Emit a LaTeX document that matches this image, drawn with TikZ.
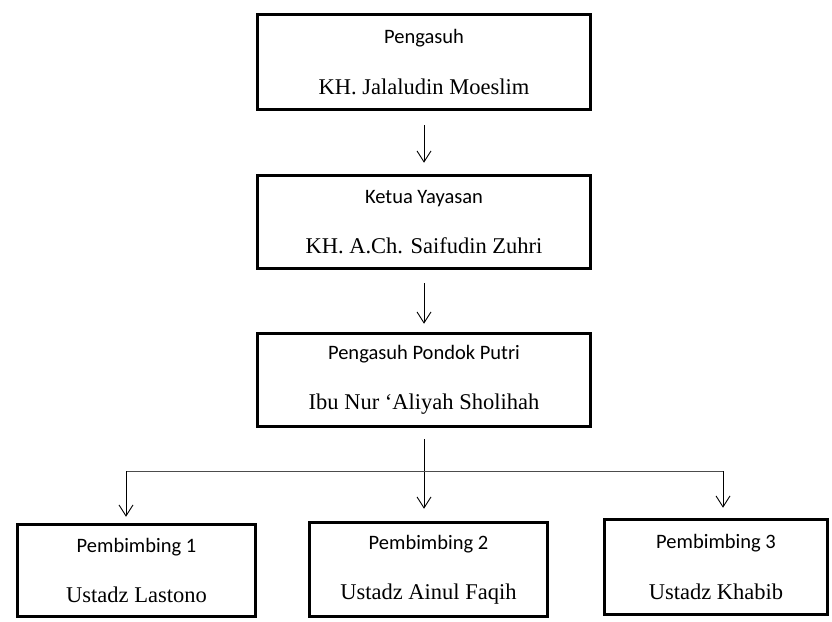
\documentclass[tikz,border=0pt]{standalone}
\usepackage{fontspec}
\usepackage{tikz}
\usetikzlibrary{arrows.meta}
\setmainfont{Liberation Serif}
\newfontfamily\labfont{Carlito}
\newcommand{\lab}{\fontsize{20.5}{24}\selectfont\labfont}
\newcommand{\nama}{\fontsize{22.5}{26}\selectfont\rmfamily}

\begin{document}
\begin{tikzpicture}[x=1pt,y=-1pt,
    kotak/.style={draw, line width=3.5pt, align=center, inner sep=0pt},
    panah/.style={line width=0.9pt, -{Straight Barb[length=11pt,width=14pt,line width=0.9pt]}}]
    \useasboundingbox (0,0) rectangle (832,621);
    \node[kotak, minimum width=333pt, minimum height=95pt] (pengasuh) at (424,62)
        {\lab Pengasuh\\[30pt]\nama KH. Jalaludin Moeslim};
    \node[kotak, minimum width=333pt, minimum height=93pt] (ketua) at (424,222)
        {\lab Ketua Yayasan\\[30pt]\nama KH. A.Ch. Saifudin Zuhri};
    \node[kotak, minimum width=333pt, minimum height=93pt] (putri) at (424,380)
        {\lab Pengasuh Pondok Putri\\[30pt]\nama Ibu Nur ‘Aliyah Sholihah};
    \node[kotak, minimum width=238pt, minimum height=92pt] (pb1) at (136.5,570.5)
        {\lab Pembimbing 1\\[30pt]\nama Ustadz Lastono};
    \node[kotak, minimum width=238pt, minimum height=94pt] (pb2) at (428.5,569.5)
        {\lab Pembimbing 2\\[30pt]\nama Ustadz Ainul Faqih};
    \node[kotak, minimum width=223pt, minimum height=95pt] (pb3) at (716,567)
        {\lab Pembimbing 3\\[30pt]\nama Ustadz Khabib};
    \coordinate (kiri) at (126,471);
    \coordinate (kanan) at (723,471);
    \draw[panah, shorten <=14pt, shorten >=11pt] (pengasuh.south) -- (ketua.north);
    \draw[panah, shorten <=13pt, shorten >=8pt] (ketua.south) -- (putri.north);
    \draw[panah, shorten <=11pt, shorten >=12pt] (putri.south) -- (putri.south |- pb2.north);
    \draw[line width=0.9pt, black!70] (kiri) -- (kanan);
    \draw[panah, shorten >=6pt] (kiri) -- (kiri |- pb1.north);
    \draw[panah, shorten >=10pt] (kanan) -- (kanan |- pb3.north);
\end{tikzpicture}
\end{document}
